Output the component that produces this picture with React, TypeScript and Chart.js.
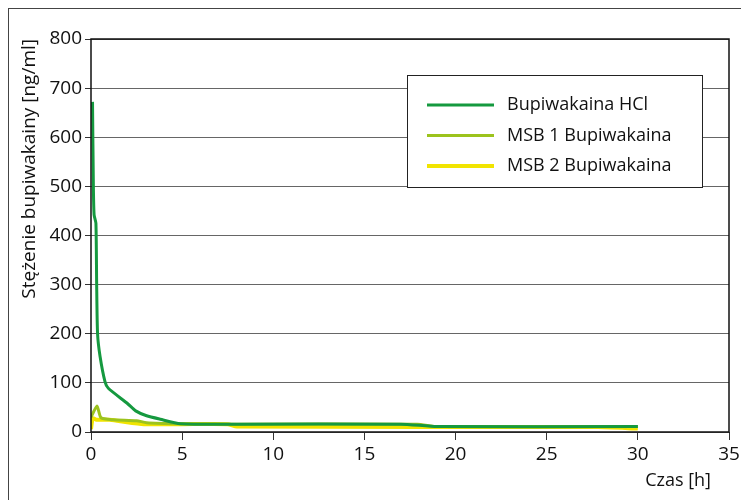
import React, { useEffect, useRef } from "react";
import { Chart, registerables } from "chart.js";

Chart.register(...registerables);

const seriesNames = ["Bupiwakaina HCl", "MSB 1 Bupiwakaina", "MSB 2 Bupiwakaina"];
const seriesColors = ["#15993f", "#9cc31d", "#f1e400"];

const hclTimes = [0.083, 0.13, 0.17, 0.27, 0.31, 0.36, 0.5, 0.77, 0.95, 2, 2.45, 3.05, 3.8, 4.9, 8, 17, 19, 30];
const hclValues = [672, 500, 442, 425, 303, 200, 153, 102, 89, 58, 43, 33, 26, 17, 16, 16, 11, 11];

const msb1Times = [0, 0.33, 0.55, 1.2, 2.5, 3.05, 5, 8, 17.9, 19, 28, 30];
const msb1Values = [30, 53, 29, 25, 23, 19, 17, 16, 16, 11, 11, 11];

const msb2Times = [0, 0.1, 0.3, 1, 1.6, 2.9, 5, 7.5, 8, 27.8, 30];
const msb2Values = [6, 28, 25, 25, 22, 16, 16, 16, 11, 10, 7];

const xTitle = "Czas [h]";
const yTitle = "Stężenie bupiwakainy [ng/ml]";

const FONT = "'Open Sans', sans-serif";

function pts(t: number[], v: number[]) {
  return t.map((x, i) => ({ x, y: v[i] }));
}

const framePlugin = {
  id: "framePlugin",
  afterDatasetsDraw(chart: any) {
    const { ctx, chartArea } = chart;
    const { left, top, right, bottom } = chartArea;
    ctx.save();
    ctx.strokeStyle = "#111";
    ctx.lineWidth = 1.5;
    ctx.strokeRect(left, top, right - left, bottom - top);

    // legend box
    const bx = left + 316;
    const by = top + 36;
    const bw = 295;
    const bh = 112;
    ctx.fillStyle = "#fff";
    ctx.fillRect(bx, by, bw, bh);
    ctx.lineWidth = 1;
    ctx.strokeStyle = "#222";
    ctx.strokeRect(bx + 0.5, by + 0.5, bw, bh);
    ctx.font = `18px ${FONT}`;
    ctx.textBaseline = "middle";
    ctx.textAlign = "left";
    seriesNames.forEach((name, i) => {
      const yy = by + 30 + i * 30.5;
      ctx.strokeStyle = seriesColors[i];
      ctx.lineWidth = i === 2 ? 4 : 3;
      ctx.beginPath();
      ctx.moveTo(bx + 20, yy);
      ctx.lineTo(bx + 87, yy);
      ctx.stroke();
      ctx.fillStyle = "#111";
      ctx.fillText(name, bx + 100, yy);
    });

    // x axis title
    ctx.textAlign = "right";
    ctx.fillStyle = "#111";
    ctx.fillText(xTitle, right - 18, bottom + 49);
    ctx.restore();
  },
};

export default function App() {
  const ref = useRef<HTMLCanvasElement | null>(null);
  useEffect(() => {
    if (!ref.current) return;
    const chart = new Chart(ref.current, {
      type: "line",
      data: {
        datasets: [
          {
            label: seriesNames[0],
            data: pts(hclTimes, hclValues),
            borderColor: seriesColors[0],
            borderWidth: 3,
            pointRadius: 0,
            tension: 0.2,
          },
          {
            label: seriesNames[1],
            data: pts(msb1Times, msb1Values),
            borderColor: seriesColors[1],
            borderWidth: 3,
            pointRadius: 0,
            tension: 0.2,
          },
          {
            label: seriesNames[2],
            data: pts(msb2Times, msb2Values),
            borderColor: seriesColors[2],
            borderWidth: 4,
            pointRadius: 0,
            tension: 0.2,
          },
        ],
      },
      options: {
        animation: false,
        responsive: false,
        layout: { padding: { top: 30, right: 19, left: 0, bottom: 0 } },
        plugins: { legend: { display: false }, tooltip: { enabled: false } },
        scales: {
          x: {
            type: "linear",
            min: 0,
            max: 35,
            ticks: { stepSize: 5, font: { family: FONT, size: 19 }, color: "#111", padding: 3 },
            grid: { drawOnChartArea: false, drawTicks: true, tickLength: 8, tickColor: "#333" },
            border: { display: false },
            afterFit: (s: any) => {
              s.height = 67;
            },
          },
          y: {
            min: 0,
            max: 800,
            ticks: { stepSize: 100, font: { family: FONT, size: 19 }, color: "#111", padding: 3 },
            grid: { color: "#666", lineWidth: 1, tickLength: 6, tickColor: "#333" },
            border: { display: false },
            title: {
              display: true,
              text: yTitle,
              align: "end",
              font: { family: FONT, size: 19 },
              color: "#111",
              padding: { top: 9, bottom: 0 },
            },
            afterFit: (s: any) => {
              s.width = 82;
            },
          },
        },
      },
      plugins: [framePlugin],
    } as any);
    return () => chart.destroy();
  }, []);
  return (
    <div style={{ border: "1px solid #444", width: 739, height: 520, boxSizing: "content-box" }}>
      <canvas ref={ref} width={739} height={490} style={{ display: "block" }} />
    </div>
  );
}
